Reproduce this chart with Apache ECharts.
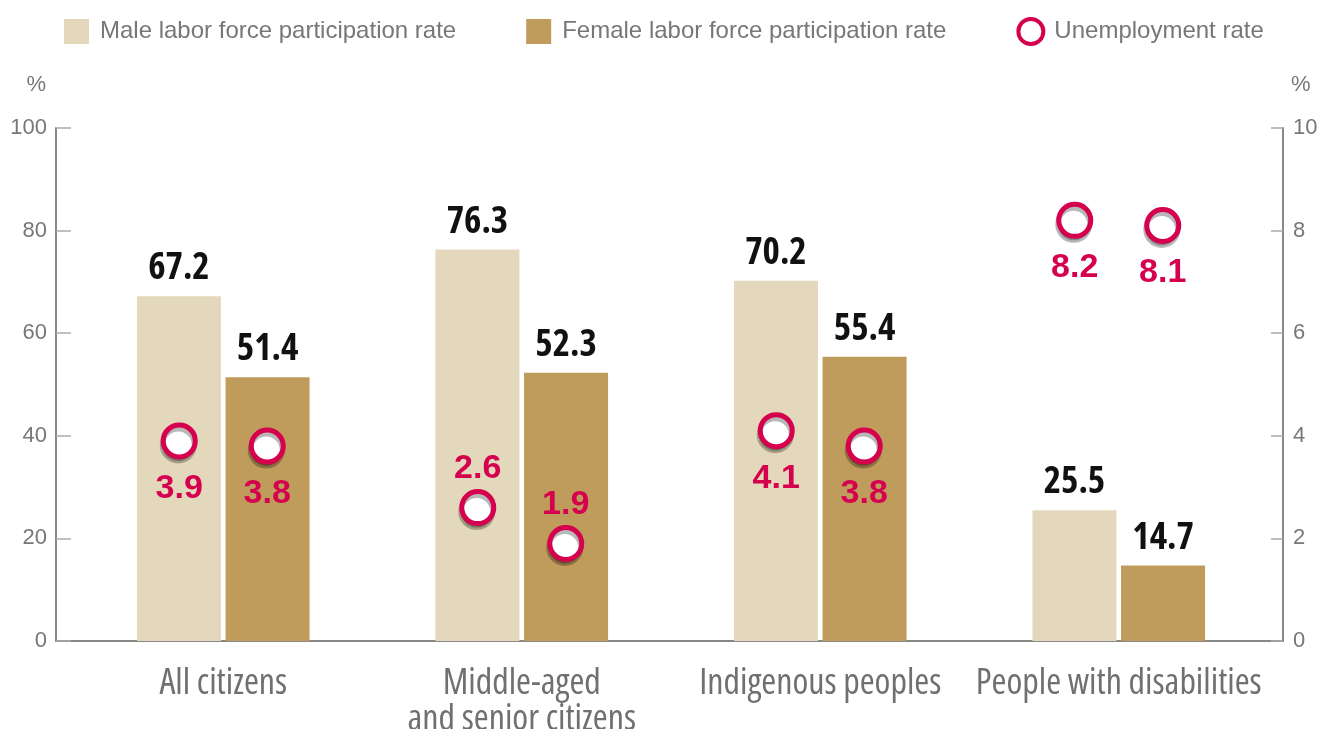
<!DOCTYPE html>
<html>
<head>
<meta charset="utf-8">
<script src="https://cdn.jsdelivr.net/npm/echarts@6/dist/echarts.min.js"></script>
<style>
  html, body { margin: 0; padding: 0; background: #fff; }
  #main { width: 1318px; height: 729px; }
</style>
</head>
<body>
<div id="main"></div>
<script>
// data
var categories = ['All citizens', 'Middle-aged\nand senior citizens', 'Indigenous peoples', 'People with disabilities'];
var maleRate = [67.2, 76.3, 70.2, 25.5];
var femaleRate = [51.4, 52.3, 55.4, 14.7];
var maleUnemp = [3.9, 2.6, 4.1, 8.2];
var femaleUnemp = [3.8, 1.9, 3.8, 8.1];
// groups where the unemployment label sits above the circle
var labelAbove = [false, true, false, false];

var RED = '#d5004e';
var GREY = '#777';
var SANS = '"Liberation Sans", Arial, sans-serif';
// Open Sans is a variable font here, 'condensed' pulls it in to 75% width
var COND = '"Open Sans", "DejaVu Sans Condensed", sans-serif';

var chart = echarts.init(document.getElementById('main'));

var unempPoints = function (vals) {
  return vals.map(function (v, i) {
    return labelAbove[i] ? { value: v, label: { position: 'top', distance: 3 } } : v;
  });
};

var unempSeries = function (vals, dx) {
  return {
    name: 'Unemployment rate',
    type: 'scatter',
    xAxisIndex: 1,
    yAxisIndex: 3,
    symbol: 'circle',
    symbolSize: 32,
    symbolOffset: [dx, 0],
    z: 5,
    itemStyle: {
      color: '#fff',
      opacity: 1,
      borderColor: RED,
      borderWidth: 5,
      shadowColor: 'rgba(0,0,0,0.28)',
      shadowBlur: 0,
      shadowOffsetX: -1,
      shadowOffsetY: 4
    },
    label: {
      show: true,
      position: 'bottom',
      distance: 12,
      color: RED,
      fontSize: 34,
      fontWeight: 'bold',
      fontFamily: SANS
    },
    data: unempPoints(vals)
  };
};

var barLabel = {
  show: true,
  position: 'top',
  distance: 9,
  color: '#111',
  fontSize: 37,
  fontStyle: 'condensed',
  fontWeight: 'bold',
  fontFamily: COND
};

var option = {
  animation: false,
  legend: {
    top: 12,
    left: 59,
    itemWidth: 25,
    itemHeight: 25,
    itemGap: 70,
    textStyle: { color: GREY, fontSize: 24, fontFamily: SANS, padding: [0, 0, 0, 6] },
    data: [
      { name: 'Male labor force participation rate', icon: 'rect' },
      { name: 'Female labor force participation rate', icon: 'rect' },
      { name: 'Unemployment rate', icon: 'circle', itemStyle: { color: '#fff', borderColor: RED, borderWidth: 4, shadowOffsetX: 0, shadowOffsetY: 0, shadowColor: 'transparent' } }
    ]
  },
  grid: [
    { left: 56, right: 35, top: 128, bottom: 88, outerBoundsMode: 'none' },
    { left: 74, right: 50, top: 128, bottom: 88, outerBoundsMode: 'none' }
  ],
  xAxis: [
    {
      gridIndex: 0,
      type: 'value',
      min: 0,
      max: 1,
      axisLine: { show: true, lineStyle: { color: '#888', width: 2 } },
      axisTick: { show: false },
      axisLabel: { show: false },
      splitLine: { show: false }
    },
    {
      gridIndex: 1,
      type: 'category',
      data: categories,
      axisLine: { show: false },
      axisTick: { show: false },
      axisLabel: {
        interval: 0,
        margin: 25,
        color: '#707070',
        fontSize: 36,
        lineHeight: 36,
        fontStyle: 'condensed',
        fontFamily: COND
      }
    }
  ],
  yAxis: [
    {
      gridIndex: 0,
      type: 'value',
      min: 0,
      max: 100,
      interval: 20,
      name: '%',
      nameGap: 32,
      nameTextStyle: { color: GREY, fontSize: 22, fontFamily: SANS, align: 'right', padding: [0, 10, 0, 0] },
      axisLine: { show: true, lineStyle: { color: '#888', width: 2 } },
      axisTick: { show: true, inside: true, length: 15, lineStyle: { color: '#aaa', width: 1.5 } },
      axisLabel: { color: GREY, fontSize: 22, margin: 9, fontFamily: SANS },
      splitLine: { show: false }
    },
    {
      gridIndex: 0,
      type: 'value',
      position: 'right',
      min: 0,
      max: 10,
      interval: 2,
      name: '%',
      nameGap: 32,
      nameTextStyle: { color: GREY, fontSize: 22, fontFamily: SANS, align: 'left', padding: [0, 0, 0, 8] },
      axisLine: { show: true, lineStyle: { color: '#888', width: 2 } },
      axisTick: { show: true, inside: true, length: 12, lineStyle: { color: '#aaa', width: 1.5 } },
      axisLabel: { color: GREY, fontSize: 22, margin: 10, fontFamily: SANS },
      splitLine: { show: false }
    },
    { gridIndex: 1, type: 'value', min: 0, max: 100, show: false },
    { gridIndex: 1, type: 'value', min: 0, max: 10, show: false, position: 'right' }
  ],
  series: [
    {
      name: 'Male labor force participation rate',
      type: 'bar',
      xAxisIndex: 1,
      yAxisIndex: 2,
      barWidth: 84,
      barGap: '5.5%',
      itemStyle: { color: '#e4d8bc' },
      label: barLabel,
      data: maleRate
    },
    {
      name: 'Female labor force participation rate',
      type: 'bar',
      xAxisIndex: 1,
      yAxisIndex: 2,
      barWidth: 84,
      barGap: '5.5%',
      itemStyle: { color: '#bf9c5b' },
      label: barLabel,
      data: femaleRate
    },
    unempSeries(maleUnemp, -44),
    unempSeries(femaleUnemp, 44)
  ]
};

chart.setOption(option);
</script>
</body>
</html>
